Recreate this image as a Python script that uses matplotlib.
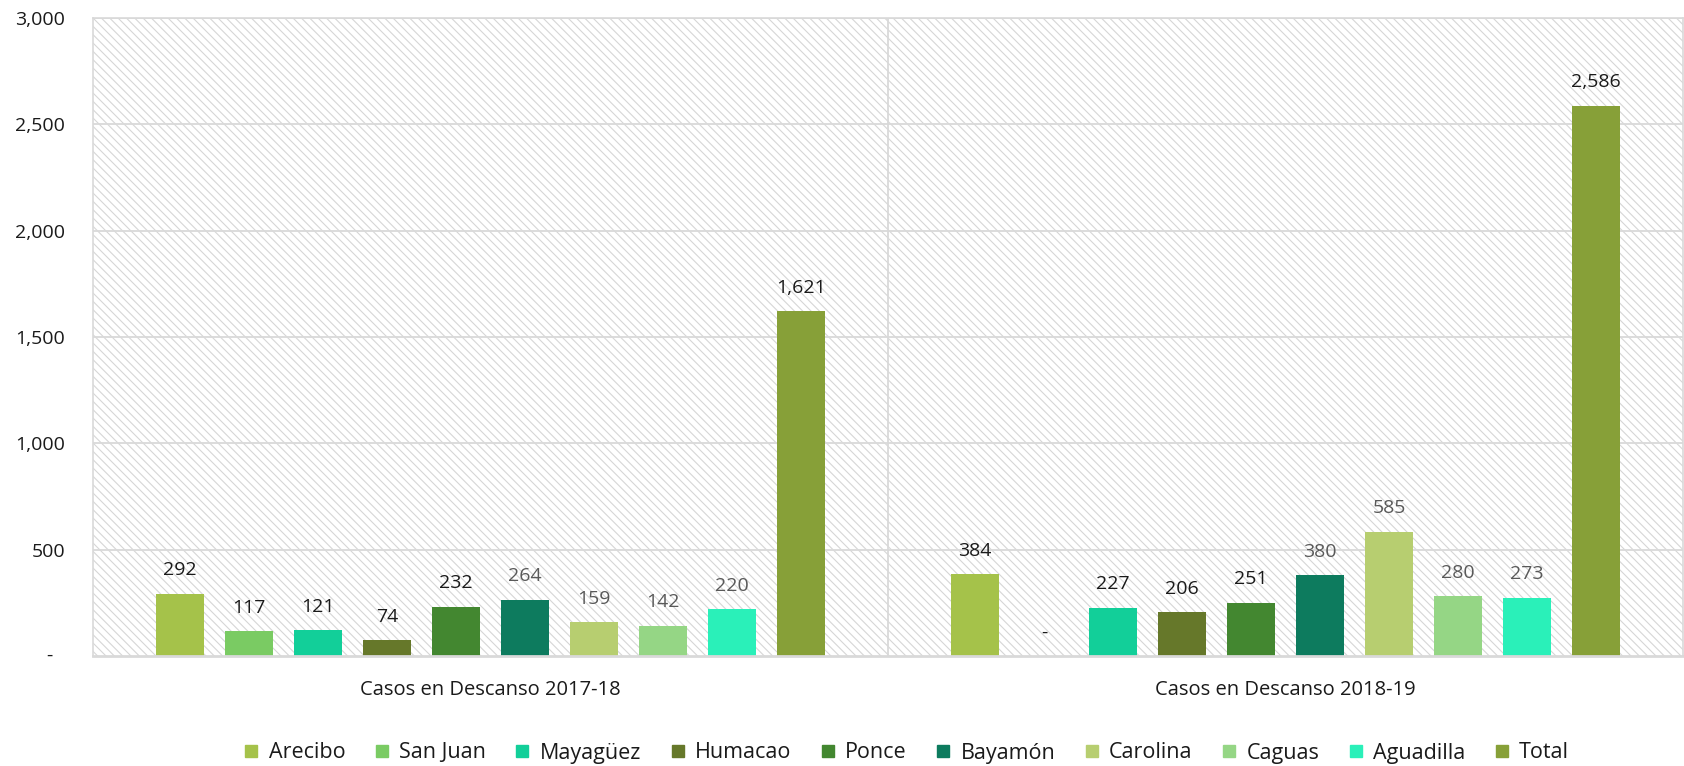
import matplotlib
matplotlib.use("Agg")
import matplotlib.pyplot as plt
from matplotlib.patches import Rectangle
from matplotlib.lines import Line2D
import numpy as np

plt.rcParams['font.family'] = ['Open Sans', 'DejaVu Sans']
plt.rcParams['hatch.linewidth'] = 0.8

categories = ["Casos en Descanso 2017-18", "Casos en Descanso 2018-19"]
series = ["Arecibo", "San Juan", "Mayagüez", "Humacao", "Ponce", "Bayamón",
          "Carolina", "Caguas", "Aguadilla", "Total"]
values_2017_18 = [292, 117, 121, 74, 232, 264, 159, 142, 220, 1621]
values_2018_19 = [384, 0, 227, 206, 251, 380, 585, 280, 273, 2586]
colors = ["#A5C24A", "#7ACB63", "#12CF99", "#66782A", "#438730", "#0D7B5E",
          "#B7CE70", "#95D685", "#2AF0B9", "#87A038"]
label_colors = ["#1a1a1a"] * 5 + ["#595959"] * 4 + ["#1a1a1a"]
yticks = [0, 500, 1000, 1500, 2000, 2500, 3000]

W, H = 1684, 766
fig = plt.figure(figsize=(W / 100, H / 100), dpi=100)
ax = fig.add_axes([93 / W, 1 - 656 / H, (1683 - 93) / W, (656 - 18) / H])

# hatched background
bg = Rectangle((0, 0), 1, 1, transform=ax.transAxes, facecolor="white",
               edgecolor="#d6d6d6", linewidth=0, hatch="\\\\\\\\", zorder=0)
ax.add_patch(bg)

x = np.arange(len(categories))
slot = 69 / 795
bw = 48 / 795
data = np.array([values_2017_18, values_2018_19])
for i, name in enumerate(series):
    xs = x + (i - 4.5) * slot
    vals = data[:, i]
    ax.bar(xs, vals, width=bw, color=colors[i], zorder=3, label=name)
    for xx, v in zip(xs, vals):
        txt = "-" if v == 0 else f"{v:,}"
        ax.annotate(txt, xy=(xx, v), xytext=(0, 17), textcoords="offset points",
                    ha="center", va="center", fontsize=14, color=label_colors[i],
                    zorder=5)

ax.set_xlim(-0.5, 1.5)
ax.set_ylim(0, 3000)
ax.set_yticks(yticks)
ax.set_yticklabels(["" if t == 0 else f"{t:,}" for t in yticks], fontsize=14,
                   color="#1a1a1a")
ax.annotate("-", xy=(0, 0), xycoords=("axes fraction", "data"), xytext=(-44, 0),
            textcoords="offset pixels", ha="center", va="center", fontsize=14,
            color="#1a1a1a")
ax.tick_params(axis="y", length=0, pad=20)
ax.set_xticks(x)
ax.set_xticklabels(categories, fontsize=14.5, color="#1a1a1a")
ax.tick_params(axis="x", length=0, pad=17)

for t in yticks[1:]:
    ax.axhline(t, color="#d9d9d9", linewidth=1.3, zorder=1)
ax.axvline(0.5, color="#d9d9d9", linewidth=1.3, zorder=1)

for s in ["left", "top", "right"]:
    ax.spines[s].set_color("#d9d9d9")
    ax.spines[s].set_linewidth(1.2)
ax.spines["bottom"].set_color("#d9d9d9")
ax.spines["bottom"].set_linewidth(2.0)
ax.spines["bottom"].set_zorder(4)

handles = [Line2D([], [], marker="s", linestyle="none", markersize=9,
                  markerfacecolor=c, markeredgecolor=c) for c in colors]
fig.legend(handles, series, loc="center", bbox_to_anchor=(907 / W, 1 - 753 / H),
           ncol=10, frameon=False, fontsize=15.5, handlelength=0.6,
           handletextpad=0.5, columnspacing=1.4, labelcolor="#1a1a1a")

fig.savefig("out.png", dpi=100)
